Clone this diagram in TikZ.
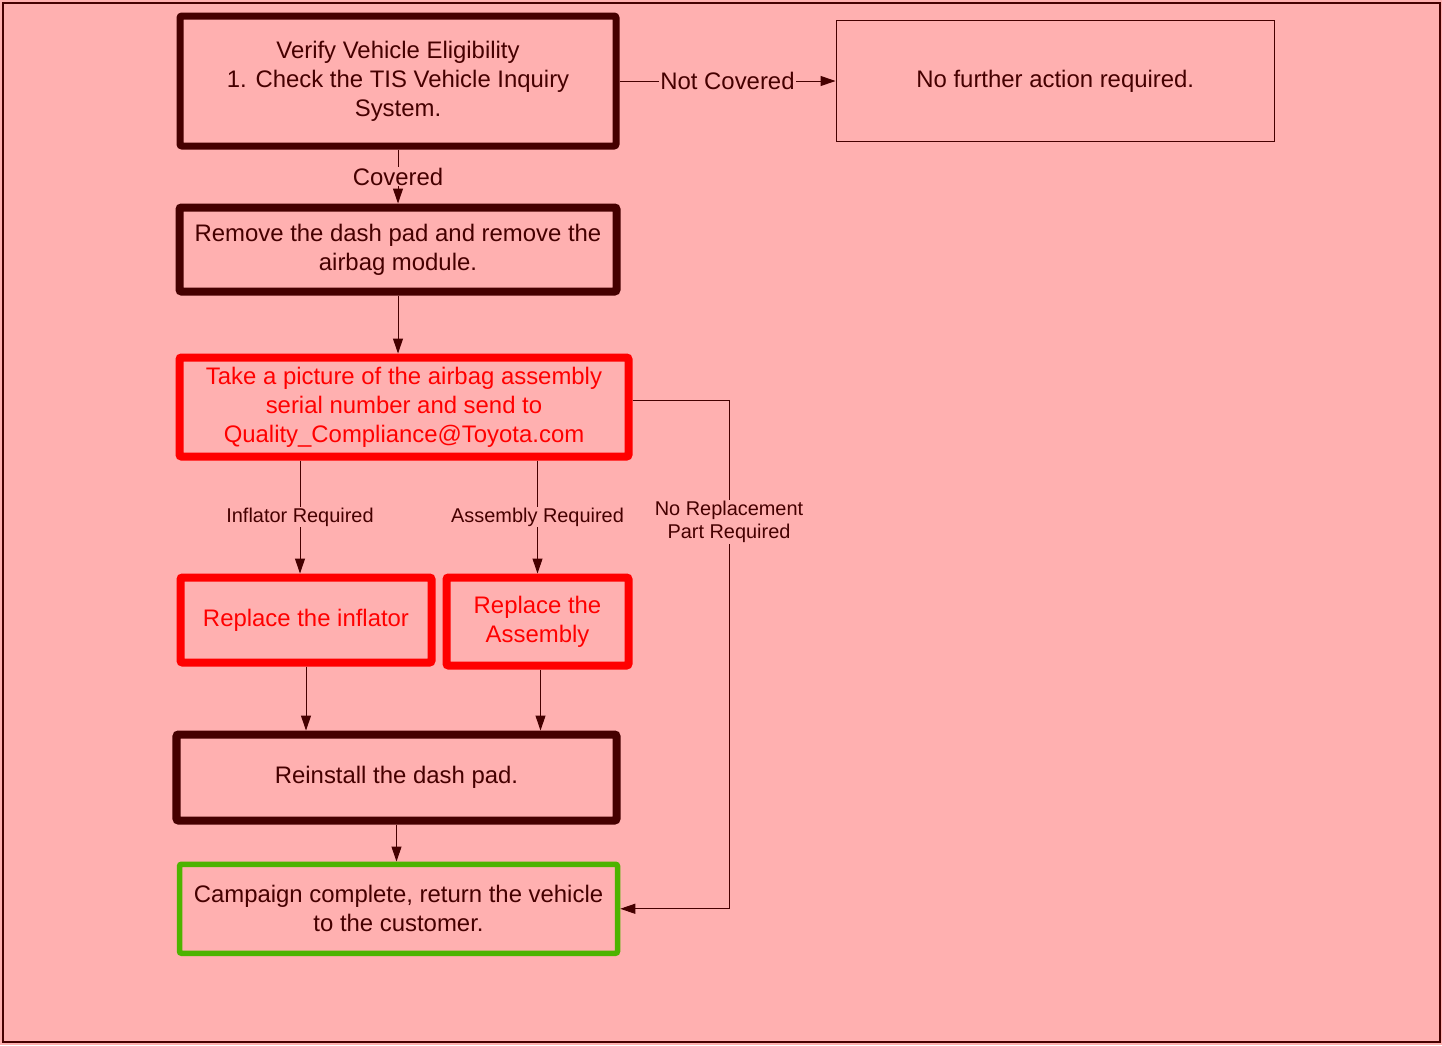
\documentclass[tikz,border=0pt]{standalone}
\usepackage{fontspec}
\setmainfont{Liberation Sans}
\usetikzlibrary{arrows.meta,positioning}
\definecolor{bgpink}{HTML}{FFB0B0}
\definecolor{darkred}{HTML}{450000}
\definecolor{flowgreen}{HTML}{4DB300}

\begin{document}
\begin{tikzpicture}[x=1bp, y=-1bp,
  every node/.style={font=\fontsize{24}{29}\selectfont, text=darkred, align=center},
  stepbox/.style={draw=darkred, line width=8bp, rounded corners=2bp, inner sep=2bp},
  redbox/.style={stepbox, draw=red, text=red},
  conn/.style={draw=darkred, line width=1bp, -{Triangle[length=15bp, width=10bp]}},
  lbl/.style={fill=bgpink, inner sep=1bp},
  small/.style={font=\fontsize{20}{23}\selectfont}]
  \useasboundingbox (0,0) rectangle (1442,1045);
  \fill[bgpink] (0,0) rectangle (1442,1045);
  \draw[darkred, line width=1.5bp] (3,3) rectangle (1440,1042);

  % main column
  \node[stepbox, line width=7bp, minimum width=436bp, minimum height=130bp] (verify) at (398,81)
    {Verify Vehicle Eligibility\\1. Check the TIS Vehicle Inquiry\\System.};
  \node[draw=darkred, line width=1.5bp, minimum width=438bp, minimum height=121bp, right=216bp of verify] (nofurther)
    {No further action required.};
  \node[stepbox, minimum width=437bp, minimum height=84bp, below=54bp of verify] (remove)
    {Remove the dash pad and remove the\\airbag module.};
  \node[redbox, minimum width=449bp, minimum height=99bp, below=58bp of remove, xshift=6bp] (take)
    {Take a picture of the airbag assembly\\serial number and send to\\Quality\_Compliance@Toyota.com};

  % replacement branches
  \node[redbox, minimum width=251bp, minimum height=85bp, below=113bp of take.south west, anchor=north west, xshift=1bp] (inflator)
    {Replace the inflator};
  \node[redbox, minimum width=182bp, minimum height=88bp, right=7bp of inflator.north east, anchor=north west] (assembly)
    {Replace the\\Assembly};

  \node[stepbox, minimum width=440bp, minimum height=86bp, below=64bp of inflator.south west, anchor=north west, xshift=-4bp] (reinstall)
    {Reinstall the dash pad.};
  \node[stepbox, draw=flowgreen, line width=5.5bp, minimum width=438bp, minimum height=89bp, below=37bp of reinstall, xshift=2bp] (campaign)
    {Campaign complete, return the vehicle\\to the customer.};

  % connectors
  \draw[conn] (verify.south) -- (verify.south |- remove.north) node[midway, lbl] {Covered};
  \draw[conn] (verify.east) -- (nofurther.west) node[midway, lbl] {Not Covered};
  \draw[conn] (remove.south) -- (remove.south |- take.north);
  \draw[conn] ([xshift=-6bp]inflator.north |- take.south) -- ([xshift=-6bp]inflator.north)
    node[midway, lbl, small] {Inflator Required};
  \draw[conn] (assembly.north |- take.south) -- (assembly.north)
    node[midway, lbl, small] {Assembly Required};
  \draw[conn] (inflator.south) -- (inflator.south |- reinstall.north);
  \draw[conn] ([xshift=3bp]assembly.south) -- ([xshift=3bp]assembly.south |- reinstall.north);
  \draw[conn] (reinstall.south) -- (reinstall.south |- campaign.north);
  \coordinate (bypass) at (729,400);
  \draw[conn] (take.east |- bypass) -- (bypass) -- (bypass |- campaign.east)
    node[pos=0.24, lbl, small] {No Replacement\\Part Required} -- (campaign.east);
\end{tikzpicture}
\end{document}
